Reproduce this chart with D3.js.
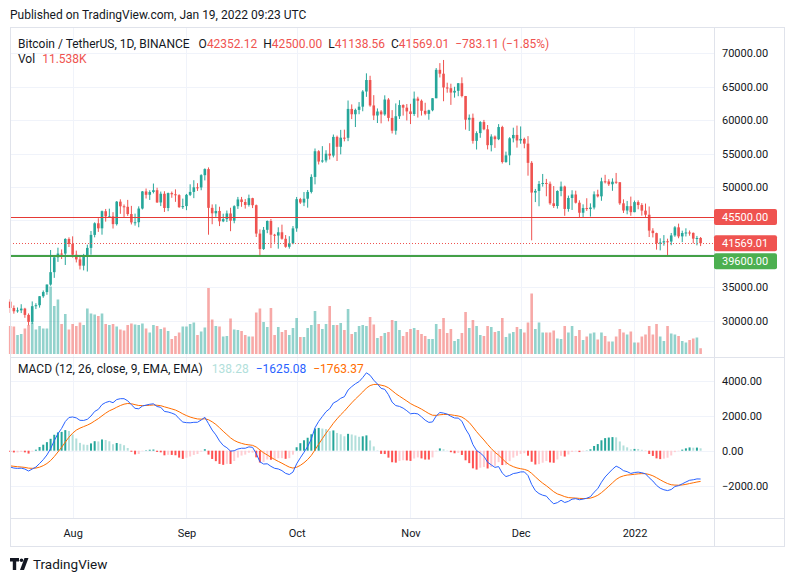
<!DOCTYPE html>
<html>
<head>
<meta charset="utf-8">
<script src="https://cdn.jsdelivr.net/npm/d3@7"></script>
<style>
  body { margin: 0; background: #fff; }
  svg { display: block; font-family: "Trebuchet MS", Roboto, sans-serif; }
</style>
</head>
<body>
<svg id="chart" width="793" height="582"></svg>
<script>
"use strict";

// BTCUSDT daily, 15 Jul 2021 .. 19 Jan 2022
const firstDay = "2021-07-15";

const open = [
  32820, 31874, 31383, 31520, 31779, 30839, 29790, 32144, 32287, 33634,
  34258, 35381, 37237, 39457, 40019, 40016, 42206, 41461, 39846, 39146,
  38207, 39723, 40867, 42816, 44555, 43799, 46365, 45585, 45593, 44428,
  47793, 47097, 47019, 45936, 44687, 44710, 46760, 49323, 48821, 49240,
  49507, 47674, 48974, 46843, 49070, 48896, 48768, 46970, 47127, 48813,
  49250, 49936, 49917, 51757, 52663, 46863, 46049, 46395, 44850, 45173,
  46026, 44940, 47111, 48121, 47737, 47300, 48314, 47261, 43012, 40693,
  43574, 44895, 42839, 42716, 43208, 42235, 41035, 41564, 43790, 48165,
  47657, 48233, 49245, 51493, 55339, 53797, 53963, 54963, 54690, 57485,
  56006, 57370, 57347, 61672, 60875, 61528, 62010, 64280, 66001, 62193,
  60688, 61286, 60852, 63078, 60328, 58413, 60575, 62253, 61859, 61299,
  60911, 63219, 62896, 61395, 60937, 61470, 63273, 67525, 66947, 64882,
  64774, 64122, 64380, 65519, 63606, 60058, 60344, 56891, 58052, 59707,
  58622, 56247, 57541, 57138, 58960, 53726, 54721, 57274, 57776, 56950,
  57184, 56480, 53601, 49152, 49396, 50441, 50588, 50471, 47545, 47140,
  49389, 50053, 46702, 48343, 48864, 47632, 46131, 46834, 46681, 46914,
  48889, 48588, 50838, 50820, 50399, 50775, 50701, 47543, 46464, 47120,
  46216, 47722, 47286, 46446, 45832, 43451, 43082, 41566, 41679, 41864,
  41822, 42736, 43946, 42592, 43099, 43177, 43114, 42250, 42352.12
];
const high = [
  33185, 32250, 31950, 32435, 31899, 31063, 32858, 32591, 33650, 34500,
  35398, 40550, 39542, 40900, 40640, 42316, 42448, 42599, 40459, 39780,
  39969, 41350, 43392, 44700, 45310, 46456, 46700, 46743, 46218, 47886,
  48144, 47372, 48053, 47160, 46000, 47088, 49382, 49757, 49500, 50500,
  49875, 49300, 49349, 49150, 49303, 49632, 48900, 48246, 48950, 50392,
  51000, 50558, 51900, 52780, 52920, 47381, 47400, 47033, 45987, 46460,
  46880, 47250, 48500, 48500, 48177, 48844, 48373, 47358, 43639, 44000,
  44978, 45200, 42972, 43950, 44350, 42789, 42617, 44141, 48495, 48359,
  49228, 49536, 51886, 55750, 55500, 56100, 55489, 56545, 57840, 57680,
  58532, 58570, 62933, 62350, 61720, 62695, 64486, 67000, 66639, 63732,
  61747, 61500, 63710, 63293, 61496, 62499, 62980, 62359, 62405, 62437,
  64270, 63500, 63086, 62595, 61560, 63286, 67789, 68530, 69000, 65600,
  65450, 64990, 65550, 66401, 63617, 60840, 60976, 58320, 59846, 60029,
  59266, 57875, 57700, 59398, 59150, 55280, 57445, 58865, 59176, 59053,
  57375, 57600, 53859, 49699, 50891, 51936, 51200, 50797, 50125, 49485,
  50797, 50189, 48700, 49500, 49436, 47995, 47392, 48300, 47537, 49328,
  49576, 51375, 51810, 51156, 51280, 52088, 50704, 48139, 47900, 48548,
  47954, 47990, 47570, 47505, 47070, 43816, 43145, 42300, 42786, 42248,
  43100, 44135, 44500, 43448, 43800, 43476, 43179, 42663, 42500
];
const low = [
  31133, 31020, 31164, 31108, 30407, 29278, 29482, 31708, 31925, 33401,
  33851, 35205, 36383, 38772, 39200, 38313, 41000, 39422, 38690, 37642,
  37508, 37332, 39853, 42450, 43261, 42848, 44800, 45341, 43770, 44217,
  45971, 45500, 45660, 44376, 44203, 43956, 46622, 48263, 48050, 49029,
  47600, 47126, 46251, 46364, 48371, 47762, 46853, 46700, 46512, 48630,
  48316, 49400, 49500, 50970, 42843, 44412, 45514, 44132, 44722, 44742,
  43370, 44555, 46700, 47020, 46750, 47050, 46829, 42500, 39600, 40574,
  43069, 40837, 41646, 40750, 42098, 40888, 40753, 41410, 43283, 47451,
  47120, 46891, 49020, 50382, 53357, 53617, 53661, 54101, 54416, 53879,
  54870, 56818, 56850, 60150, 58963, 60876, 61322, 63481, 62000, 60000,
  59562, 59510, 60650, 59817, 58000, 57820, 60174, 60673, 59945, 59405,
  60624, 60382, 60677, 60721, 60050, 61322, 63273, 66382, 62822, 64100,
  62278, 63360, 63576, 63400, 58574, 58373, 56474, 55600, 57353, 58486,
  55610, 55317, 55837, 57000, 53500, 53610, 53256, 56666, 55875, 56458,
  55777, 51680, 42000, 47727, 47100, 50039, 48600, 47320, 46852, 46751,
  48600, 45672, 46290, 46547, 47511, 45456, 45500, 46406, 45558, 46630,
  48421, 47920, 50514, 50142, 49412, 50449, 47313, 46096, 45900, 45678,
  46208, 46654, 45696, 45502, 42500, 42430, 40610, 40501, 41200, 39650,
  41268, 42528, 42311, 41725, 42578, 42691, 41540, 41250, 41138.56
];
const close = [
  31880, 31383, 31520, 31779, 30839, 29790, 32144, 32287, 33634, 34258,
  35381, 37237, 39457, 40019, 40016, 42206, 41461, 39846, 39146, 38207,
  39723, 40867, 42816, 44555, 43799, 46365, 45585, 45593, 44428, 47793,
  47097, 47019, 45936, 44687, 44710, 46760, 49323, 48821, 49240, 49507,
  47674, 48974, 46843, 49070, 48896, 48768, 46970, 47127, 48813, 49250,
  49936, 49917, 51757, 52663, 46863, 46049, 46395, 44850, 45173, 46026,
  44940, 47111, 48121, 47737, 47300, 48314, 47261, 43012, 40693, 43574,
  44895, 42839, 42716, 43208, 42235, 41035, 41564, 43790, 48165, 47657,
  48233, 49245, 51493, 55339, 53797, 53963, 54963, 54690, 57485, 56006,
  57370, 57347, 61672, 60875, 61528, 62010, 64280, 66001, 62193, 60688,
  61286, 60852, 63078, 60328, 58413, 60575, 62253, 61859, 61299, 60911,
  63219, 62896, 61395, 60937, 61470, 63273, 67525, 66947, 64882, 64774,
  64122, 64380, 65519, 63606, 60058, 60344, 56891, 58052, 59707, 58622,
  56247, 57541, 57138, 58960, 53726, 54721, 57274, 57776, 56950, 57184,
  56480, 53601, 49152, 49396, 50441, 50588, 50471, 47545, 47140, 49389,
  50053, 46702, 48343, 48864, 47632, 46131, 46834, 46681, 46914, 48889,
  48588, 50838, 50820, 50399, 50775, 50701, 47543, 46464, 47120, 46216,
  47722, 47286, 46446, 45832, 43451, 43082, 41566, 41679, 41864, 41822,
  42736, 43946, 42592, 43099, 43177, 43114, 42250, 42352.12, 41569.01
];
// volume, thousands of BTC
const volume = [
  56, 55, 38, 40, 51, 58, 63, 49, 56, 51,
  51, 135, 96, 109, 60, 80, 49, 60, 56, 63,
  58, 91, 81, 79, 76, 81, 60, 58, 60, 55,
  49, 47, 58, 61, 59, 58, 61, 51, 43, 58,
  56, 50, 53, 46, 30, 36, 43, 55, 55, 60,
  63, 38, 45, 53, 132, 69, 56, 55, 35, 36,
  71, 49, 48, 46, 38, 35, 35, 83, 91, 64,
  54, 92, 38, 54, 44, 48, 38, 52, 72, 34,
  34, 52, 58, 86, 60, 50, 60, 96, 58, 58,
  62, 48, 90, 40, 44, 56, 58, 56, 74, 59,
  32, 36, 42, 44, 68, 66, 48, 36, 44, 50,
  52, 48, 40, 36, 30, 30, 60, 50, 72, 42,
  50, 26, 30, 42, 84, 52, 68, 56, 38, 36,
  56, 54, 44, 46, 72, 34, 41, 44, 54, 50,
  43, 63, 121, 50, 63, 43, 43, 43, 47, 31,
  30, 56, 43, 56, 36, 48, 28, 35, 41, 43,
  29, 43, 36, 25, 25, 35, 50, 43, 39, 45,
  23, 23, 35, 39, 56, 39, 60, 35, 26, 56,
  41, 39, 36, 26, 23, 28, 31, 33, 11.538
];

const priceTicks = [30000, 35000, 40000, 45000, 50000, 55000, 60000, 65000, 70000];
const macdTicks = [-2000, 0, 2000, 4000];
const levelLines = [45500, 39600];
const lastPrice = 41569.01;

// MACD (12, 26, 9) runs on the closes; earlier history isn't on screen
// so the EMAs start from values that match the left edge of the picture
const macdStart = { fast: 33150, slow: 34050, signal: -850 };

const UP = "#26a69a", DOWN = "#ef5350";

function ema(values, period, seed) {
  const k = 2 / (period + 1);
  let prev = seed;
  return values.map(v => (prev = v * k + prev * (1 - k)));
}

// crisp 1px lines
const px = v => Math.round(v) + 0.5;

(() => {
  const svg = d3.select("#chart");
  const L = 10, R = 784, AX = 714;
  const mainTop = 27, mainBot = 357, macdBot = 518, bottom = 546;

  const day0 = d3.utcParse("%Y-%m-%d")(firstDay);
  const data = close.map((c, i) => ({
    date: d3.utcDay.offset(day0, i),
    o: open[i], h: high[i], l: low[i], c: c, v: volume[i]
  }));

  const fast = ema(close, 12, macdStart.fast);
  const slow = ema(close, 26, macdStart.slow);
  const macd = fast.map((f, i) => f - slow[i]);
  const signal = ema(macd, 9, macdStart.signal);
  data.forEach((d, i) => {
    d.macd = macd[i];
    d.sig = signal[i];
    d.hist = macd[i] - signal[i];
  });

  const x = d3.scaleUtc()
    .domain([data[0].date, data[data.length - 1].date])
    .range([10.2, 700.6]);
  const y = d3.scaleLinear().domain([30000, 70000]).range([320.5, 53.3]);
  const yVol = d3.scaleLinear().domain([0, 135]).range([354, 286.5]);
  const yMacd = d3.scaleLinear().domain([-2000, 4000]).range([485.7, 380.7]);

  const months = d3.utcMonth.range(d3.utcMonth.ceil(data[0].date), data[data.length - 1].date);

  // grid
  const grid = svg.append("g").attr("stroke", "#f0f3fa").attr("stroke-width", 1);
  grid.selectAll(".vg").data(months).enter().append("line")
    .attr("x1", d => px(x(d))).attr("x2", d => px(x(d)))
    .attr("y1", mainTop).attr("y2", macdBot);
  grid.selectAll(".hg").data(priceTicks).enter().append("line")
    .attr("x1", L).attr("x2", AX)
    .attr("y1", d => px(y(d))).attr("y2", d => px(y(d)));
  grid.selectAll(".mg").data(macdTicks).enter().append("line")
    .attr("x1", L).attr("x2", AX)
    .attr("y1", d => px(yMacd(d))).attr("y2", d => px(yMacd(d)));

  // volume
  svg.append("g").selectAll("rect").data(data).enter().append("rect")
    .attr("x", d => x(d.date) - 1.3)
    .attr("width", 2.6)
    .attr("y", d => yVol(d.v))
    .attr("height", d => yVol(0) - yVol(d.v))
    .attr("fill", d => d.c >= d.o ? UP : DOWN)
    .attr("fill-opacity", 0.5);

  // candles
  const candles = svg.append("g").selectAll("g").data(data).enter().append("g")
    .attr("fill", d => d.c >= d.o ? UP : DOWN)
    .attr("stroke", d => d.c >= d.o ? UP : DOWN);
  candles.append("line")
    .attr("x1", d => x(d.date)).attr("x2", d => x(d.date))
    .attr("y1", d => y(d.h)).attr("y2", d => y(d.l))
    .attr("stroke-width", 1);
  candles.append("rect")
    .attr("stroke", "none")
    .attr("x", d => x(d.date) - 1.3)
    .attr("width", 2.6)
    .attr("y", d => y(Math.max(d.o, d.c)))
    .attr("height", d => Math.max(1, Math.abs(y(d.o) - y(d.c))));

  // horizontal levels + last price
  svg.append("line")
    .attr("x1", L).attr("x2", AX)
    .attr("y1", px(y(levelLines[0]))).attr("y2", px(y(levelLines[0])))
    .attr("stroke", "#e53935").attr("stroke-width", 1);
  svg.append("line")
    .attr("x1", L).attr("x2", AX)
    .attr("y1", Math.round(y(levelLines[1]))).attr("y2", Math.round(y(levelLines[1])))
    .attr("stroke", "#43a047").attr("stroke-width", 2);
  svg.append("line")
    .attr("x1", L).attr("x2", AX)
    .attr("y1", px(y(lastPrice))).attr("y2", px(y(lastPrice)))
    .attr("stroke", "#ef5350").attr("stroke-dasharray", "1,2");

  // MACD histogram: colour depends on sign and on rising/falling
  svg.append("g").selectAll("rect").data(data).enter().append("rect")
    .attr("x", d => x(d.date) - 1)
    .attr("width", 2)
    .attr("y", d => yMacd(Math.max(0, d.hist)))
    .attr("height", d => Math.abs(yMacd(d.hist) - yMacd(0)))
    .attr("fill", (d, i) => {
      const prev = i > 0 ? data[i - 1].hist : d.hist;
      if (d.hist >= 0) return d.hist > prev ? "#26a69a" : "#b2dfdb";
      return d.hist > prev ? "#ffcdd2" : "#ff5252";
    });

  const lineMacd = d3.line().x(d => x(d.date)).y(d => yMacd(d.macd));
  const lineSig = d3.line().x(d => x(d.date)).y(d => yMacd(d.sig));
  svg.append("path").datum(data).attr("d", lineSig)
    .attr("fill", "none").attr("stroke", "#ff6d00").attr("stroke-width", 1);
  svg.append("path").datum(data).attr("d", lineMacd)
    .attr("fill", "none").attr("stroke", "#2962ff").attr("stroke-width", 1);

  // frame, pane separators
  const frame = svg.append("g").attr("stroke", "#e0e3eb").attr("fill", "none");
  frame.append("rect").attr("x", L + 0.5).attr("y", mainTop + 0.5)
    .attr("width", R - L).attr("height", bottom - mainTop);
  frame.append("line").attr("x1", L).attr("x2", R).attr("y1", mainBot + 0.5).attr("y2", mainBot + 0.5);
  frame.append("line").attr("x1", L).attr("x2", R).attr("y1", macdBot + 0.5).attr("y2", macdBot + 0.5);
  frame.append("line").attr("x1", AX + 0.5).attr("x2", AX + 0.5).attr("y1", mainTop).attr("y2", bottom);

  // price labels on the axis
  const tags = [
    { v: levelLines[0], cy: y(levelLines[0]), fill: "#ef5350" },
    { v: lastPrice, cy: y(lastPrice), fill: "#ef5350" },
    { v: levelLines[1], cy: y(levelLines[1]) + 5, fill: "#4caf50" }
  ];

  // price axis; tick labels that sit under a tag are hidden like TradingView does
  const priceAxis = svg.append("g")
    .attr("transform", `translate(${AX + 8},0)`)
    .call(d3.axisRight(y).tickValues(priceTicks).tickSize(0).tickFormat(d3.format(".2f")));
  priceAxis.select(".domain").remove();
  priceAxis.selectAll(".tick")
    .filter(d => tags.some(t => Math.abs(t.cy - y(d)) < 14))
    .remove();
  priceAxis.selectAll("text").attr("x", 0).attr("font-size", 11).attr("fill", "#131722")
    .attr("font-family", "Roboto, sans-serif");

  const macdAxis = svg.append("g")
    .attr("transform", `translate(${AX + 8},0)`)
    .call(d3.axisRight(yMacd).tickValues(macdTicks).tickSize(0).tickFormat(d3.format(".2f")));
  macdAxis.select(".domain").remove();
  macdAxis.selectAll("text").attr("x", 0).attr("font-size", 11).attr("fill", "#131722")
    .attr("font-family", "Roboto, sans-serif")
    .text(d => d3.format(".2f")(d).replace("-", "−"));

  const tag = svg.append("g").selectAll("g").data(tags).enter().append("g");
  tag.append("rect")
    .attr("x", AX).attr("width", 63).attr("y", d => d.cy - 8).attr("height", 16).attr("rx", 2)
    .attr("fill", d => d.fill);
  tag.append("text")
    .attr("x", AX + 8).attr("y", d => d.cy).attr("dy", "0.35em")
    .attr("font-size", 11).attr("fill", "#fff").attr("font-family", "Roboto, sans-serif")
    .text(d => d3.format(".2f")(d.v));

  // time axis
  const timeAxis = svg.append("g")
    .attr("transform", `translate(0,${macdBot + 8})`)
    .call(d3.axisBottom(x).tickValues(months).tickSize(0)
      .tickFormat(d => d.getUTCMonth() === 0 ? d3.utcFormat("%Y")(d) : d3.utcFormat("%b")(d)));
  timeAxis.select(".domain").remove();
  timeAxis.selectAll("text").attr("font-size", 11).attr("fill", "#131722")
    .attr("font-family", "Roboto, sans-serif");

  // texts
  svg.append("text").attr("x", 10).attr("y", 19).attr("font-size", 12).attr("fill", "#131722")
    .text("Published on TradingView.com, Jan 19, 2022 09:23 UTC");

  const last = data[data.length - 1];
  const chg = last.c - data[data.length - 2].c;
  const f2 = d3.format(".2f");
  const leg = svg.append("text").attr("x", 18).attr("y", 48).attr("font-size", 12).attr("fill", "#131722");
  leg.append("tspan").text("Bitcoin / TetherUS, 1D, BINANCE");
  [["O", last.o], ["H", last.h], ["L", last.l], ["C", last.c]].forEach(([k, v], i) => {
    leg.append("tspan").attr("dx", i === 0 ? 9 : 6).text(k);
    leg.append("tspan").attr("fill", DOWN).text(f2(v));
  });
  leg.append("tspan").attr("dx", 6).attr("fill", DOWN)
    .text(`${f2(chg).replace("-", "−")} (${f2(chg / data[data.length - 2].c * 100).replace("-", "−")}%)`);

  const vl = svg.append("text").attr("x", 18).attr("y", 63).attr("font-size", 12).attr("fill", "#131722");
  vl.append("tspan").text("Vol");
  vl.append("tspan").attr("dx", 7).attr("fill", DOWN).text(d3.format(".3f")(last.v) + "K");

  const ml = svg.append("text").attr("x", 18).attr("y", 373).attr("font-size", 12).attr("fill", "#131722");
  ml.append("tspan").text("MACD (12, 26, close, 9, EMA, EMA)");
  ml.append("tspan").attr("dx", 9).attr("fill", "#b2dfdb").text("138.28");
  ml.append("tspan").attr("dx", 7).attr("fill", "#2962ff").text("−1625.08");
  ml.append("tspan").attr("dx", 7).attr("fill", "#ff6d00").text("−1763.37");

  // footer logo
  const logo = svg.append("g").attr("fill", "#131722");
  logo.append("path").attr("d", "M10 558h9v3.5h-2.8v8.5h-3.4v-8.5H10z");
  logo.append("circle").attr("cx", 21.5).attr("cy", 560.3).attr("r", 1.8);
  logo.append("path").attr("d", "M24.5 558h4l-4.5 12h-4z");
  svg.append("text").attr("x", 33).attr("y", 569).attr("font-size", 13.5).attr("fill", "#131722")
    .text("TradingView");
})();
</script>
</body>
</html>
